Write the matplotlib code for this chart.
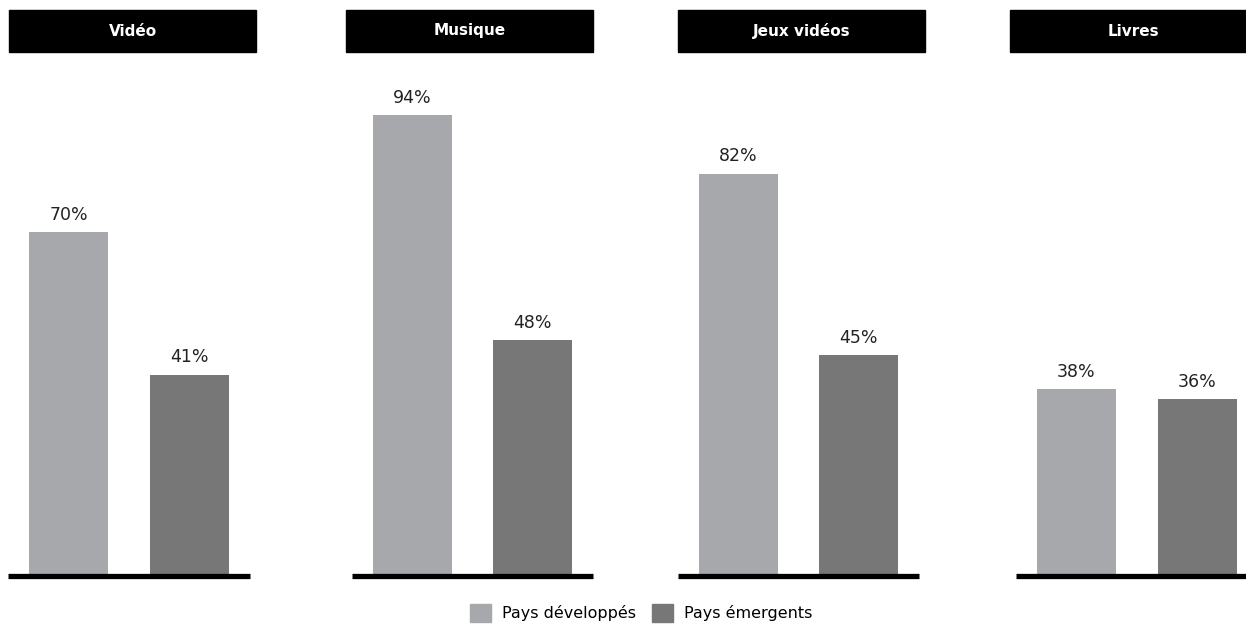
import matplotlib
matplotlib.use("Agg")
import matplotlib.pyplot as plt
from matplotlib.patches import Rectangle, Patch

# Share of consumers, by content type
categories = ["Vidéo", "Musique", "Jeux vidéos", "Livres"]
series_names = ["Pays développés", "Pays émergents"]
developed = [70, 94, 82, 38]
emerging = [41, 48, 45, 36]

LIGHT = "#a7a8ac"
DARK = "#777777"

W, H = 1246, 625
fig = plt.figure(figsize=(W / 100, H / 100), dpi=100)

# panel placement in pixels: (axis left, axis right, title left, title right)
panels = [(8, 250, 9, 256),
          (352, 593, 346, 593),
          (678, 919, 678, 925),
          (1016, 1258, 1010, 1257)]
base_y = 575.5          # pixel row of the baseline
px_per_pct = 4.9
ymax = 100

for i, (x0, x1, t0, t1) in enumerate(panels):
    ax_h = ymax * px_per_pct
    ax = fig.add_axes([x0 / W, (H - base_y) / H, (x1 - x0) / W, ax_h / H])
    vals = [developed[i], emerging[i]]
    bars = ax.bar([0, 1], vals, width=0.655, color=[LIGHT, DARK], zorder=2)
    ax.set_xlim(-0.5, 1.5)
    ax.set_ylim(0, ymax)
    ax.axhline(0, color="black", lw=3.8, zorder=3, solid_capstyle="butt",
               clip_on=False)
    for b, v in zip(bars, vals):
        ax.annotate(f"{v}%", (b.get_x() + b.get_width() / 2, v),
                    xytext=(0, 6), textcoords="offset points",
                    ha="center", va="bottom", fontsize=12.5, color="#222222")
    ax.axis("off")

    # black title band
    fig.patches.append(Rectangle((t0 / W, 1 - 52 / H), (t1 - t0) / W, 42 / H,
                                 transform=fig.transFigure, color="black",
                                 zorder=1))
    fig.text(((t0 + t1) / 2) / W, 1 - 31 / H, categories[i],
             ha="center", va="center", color="white", fontsize=11,
             fontweight="bold")

handles = [Patch(color=LIGHT), Patch(color=DARK)]
fig.legend(handles, series_names, loc="center", ncol=2, frameon=False,
           bbox_to_anchor=(641 / W, 1 - 613 / H), fontsize=11.5,
           handlelength=1.3, handleheight=1.3, handletextpad=0.7,
           columnspacing=1.0)

fig.savefig("out.png", dpi=100)
